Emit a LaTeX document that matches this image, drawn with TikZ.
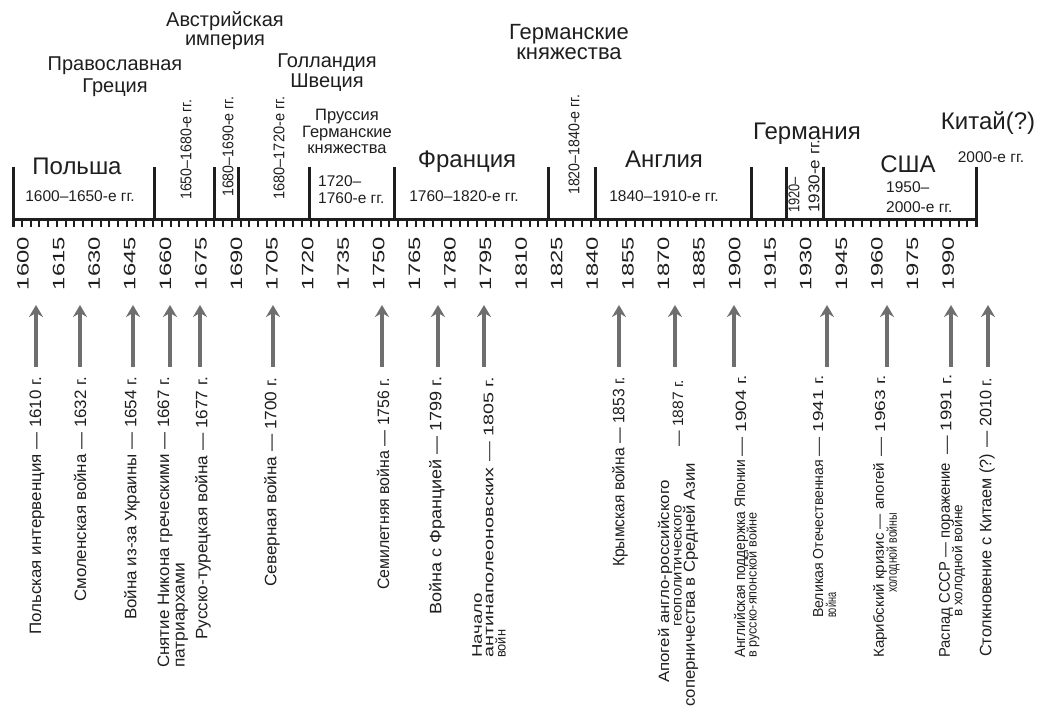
\documentclass[tikz,border=0pt]{standalone}
\usepackage{fontspec}
\setmainfont{Liberation Sans}
\usetikzlibrary{arrows.meta}
\newcommand{\fitw}[2]{\resizebox{#1pt}{\height}{#2}}
\newcommand{\fitwf}[3]{\fontsize{#1}{#1}\selectfont\resizebox{#2pt}{\height}{#3}}
\definecolor{ink}{HTML}{1E1E1E}
\definecolor{arrgray}{HTML}{6E6E6E}
\begin{document}
\begin{tikzpicture}[x=1pt,y=1pt,
  bar/.style={line width=3pt, draw=ink},
  tickmark/.style={line width=2pt, draw=ink},
  axisline/.style={line width=3pt, draw=ink},
  hl/.style={inner sep=0pt, anchor=base, text=ink},
  hleft/.style={inner sep=0pt, anchor=base west, text=ink},
  big/.style={font=\fontsize{24}{28}\selectfont},
  mid/.style={font=\fontsize{20}{24}\selectfont},
  midb/.style={font=\fontsize{22}{26}\selectfont},
  pru/.style={font=\fontsize{16.5}{20}\selectfont},
  small/.style={font=\fontsize{15.5}{18}\selectfont},
  rl/.style={inner sep=0pt, rotate=90, anchor=west, text=ink},
  ev/.style={rl, font=\fontsize{16.5}{18}\selectfont},
  yearlbl/.style={inner sep=0pt, rotate=90, text=ink, font=\fontsize{16.5}{18}\selectfont},
  evarrow/.style={draw=arrgray, line width=4pt, -{Stealth[length=12pt,width=14pt,inset=4pt]}}
]
\useasboundingbox (0,0) rectangle (1039,-708);

% axis
\coordinate (axL) at (12,-219.5);
\coordinate (axR) at (977.5,-219.5);
\draw[axisline] (axL) -- (axR);
\foreach \i in {0,...,110} {
  \draw[tickmark] ({13+\i*8.755},-219.5) -- ++(0,-7.5);
}
\foreach \x in {154,214,238,309,394,548,595,751,786,823} {
  \draw[bar] (\x,-167) -- (\x,-219.5);
}
\draw[bar] (13,-167) -- (13,-227);
\draw[bar] (976,-167) -- (976,-227);

% year labels
\foreach \yr in {1600,1615,...,1990} {
  \pgfmathsetmacro\xx{23+(\yr-1600)*2.372}
  \node[yearlbl] (y\yr) at (\xx,-263.5) {\fitw{53}{\yr}};
}

% era names and periods
\node[hl,big] (pol) at (77,-175) {Польша};
\node[hl,small] (polp) at (80,-202) {1600–1650-е гг.};
\node[hl,mid] (gr1) at (115,-71) {Православная};
\node[hl,mid] (gr2) at (115,-93) {Греция};
\node[hl,mid] (au1) at (225,-27) {Австрийская};
\node[hl,mid] (au2) at (225,-46) {империя};
\node[hl,mid] (ho1) at (327,-68) {Голландия};
\node[hl,mid] (ho2) at (327,-88) {Швеция};
\node[hl,pru] (pr1) at (347,-121) {Пруссия};
\node[hl,pru] (pr2) at (347,-137.5) {Германские};
\node[hl,pru] (pr3) at (347,-154) {княжества};
\node[hleft,small] (prp1) at (318,-187) {1720–};
\node[hleft,small] (prp2) at (318,-204) {1760-е гг.};
\node[hl,big] (fr) at (467,-168) {Франция};
\node[hl,small] (frp) at (464,-202) {1760–1820-е гг.};
\node[hl,midb] (ge1) at (569,-40) {Германские};
\node[hl,midb] (ge2) at (569,-60) {княжества};
\node[hl,big] (en) at (664,-168) {Англия};
\node[hl,small] (enp) at (664,-202) {1840–1910-е гг.};
\node[hl,big] (de) at (807,-140) {Германия};
\node[hl,big] (us) at (908,-173) {США};
\node[hleft,small] (usp1) at (886,-193) {1950–};
\node[hleft,small] (usp2) at (886,-213) {2000-е гг.};
\node[hl,big] (cn) at (988,-130) {Китай(?)};
\node[hl,small] (cnp) at (991,-163) {2000-е гг.};

% rotated periods
\node[rl,small] (r1) at (186,-200) {\fitw{100}{1650–1680-е гг.}};
\node[rl,small] (r2) at (228,-197) {\fitw{100}{1680–1690-е гг.}};
\node[rl,small] (r3) at (279,-200) {\fitw{103}{1680–1720-е гг.}};
\node[rl,small] (r4) at (574,-195) {\fitw{100}{1820–1840-е гг.}};
\node[rl,small] (r5) at (794,-213) {\fitw{36}{1920–}};
\node[rl,small] (r6) at (814,-213) {\fitw{73}{1930-е гг.}};

% event arrows
\foreach \i/\x in {1/36,2/80,3/133,4/170,5/200,6/273,7/382,8/438,9/484,10/619,11/675,12/734,13/827,14/887,15/951,16/988} {
  \coordinate (ab\i) at (\x,-367);
  \coordinate (at\i) at (\x,-305);
  \draw[evarrow] (ab\i) -- (at\i);
}

% event labels
\node[ev] (e1) at (37,-635) {\fitw{258}{Польская интервенция — 1610 г.}};
\node[ev] (e2) at (80,-602) {\fitw{225}{Смоленская война — 1632 г.}};
\node[ev] (e3) at (132,-620) {\fitw{243}{Война из-за Украины — 1654 г.}};
\node[ev] (e4a) at (165,-668) {\fitw{291}{Снятие Никона греческими — 1667 г.}};
\node[ev] (e4b) at (182,-668) {\fitw{105}{патриархами}};
\node[ev] (e5) at (203,-640) {\fitw{263}{Русско-турецкая война — 1677 г.}};
\node[ev] (e6) at (272,-587) {\fitw{209}{Северная война — 1700 г.}};
\node[ev] (e7) at (383,-590) {\fitw{212}{Семилетняя война — 1756 г.}};
\node[ev] (e8) at (437,-615) {\fitw{238}{Война с Францией — 1799 г.}};
\node[rl] (e9a) at (477,-658) {\fitwf{14}{65}{Начало}};
\node[rl] (e9b) at (488.5,-658) {\fitwf{14}{281}{антинаполеоновских — 1805 г.}};
\node[rl] (e9c) at (500.5,-658) {\fitwf{14}{28}{войн}};
\node[ev] (e10) at (620,-567) {\fitw{190}{Крымская война — 1853 г.}};
\node[rl] (e11a) at (665,-683) {\fitwf{15}{203}{Апогей англо-российского}};
\node[rl] (e11b) at (678,-627) {\fitwf{14}{122}{геополитического}};
\node[rl] (e11c) at (690.5,-707) {\fitwf{16}{244}{соперничества в Средней Азии}};
\node[rl] (e11d) at (678,-447) {\fitwf{15}{67}{— 1887 г.}};
\node[rl] (e12a) at (741,-658) {\fitwf{15}{198}{Английская поддержка Японии}};
\node[rl] (e12b) at (753,-658) {\fitwf{13.5}{145}{в русско-японской войне}};
\node[rl] (e12c) at (741,-457) {\fitwf{15}{82}{— 1904 г.}};
\node[rl] (e13a) at (818,-618) {\fitwf{14.5}{158}{Великая Отечественная}};
\node[rl] (e13b) at (831,-618) {\fitwf{14}{25}{война}};
\node[rl] (e13c) at (818,-457) {\fitwf{14.5}{82}{— 1941 г.}};
\node[rl] (e14a) at (880,-658) {\fitwf{14.5}{195}{Карибский кризис — апогей}};
\node[rl] (e14b) at (893,-593) {\fitwf{14}{80}{холодной войны}};
\node[rl] (e14c) at (880,-457) {\fitwf{14.5}{82}{— 1963 г.}};
\node[rl] (e15a) at (946,-658) {\fitwf{15.5}{195}{Распад СССР — поражение}};
\node[rl] (e15b) at (958.5,-617) {\fitwf{14}{112}{в холодной войне}};
\node[rl] (e15c) at (946,-455) {\fitwf{15.5}{80}{— 1991 г.}};
\node[ev] (e16) at (987,-657) {\fitw{279}{Столкновение с Китаем (?) — 2010 г.}};
\end{tikzpicture}
\end{document}
